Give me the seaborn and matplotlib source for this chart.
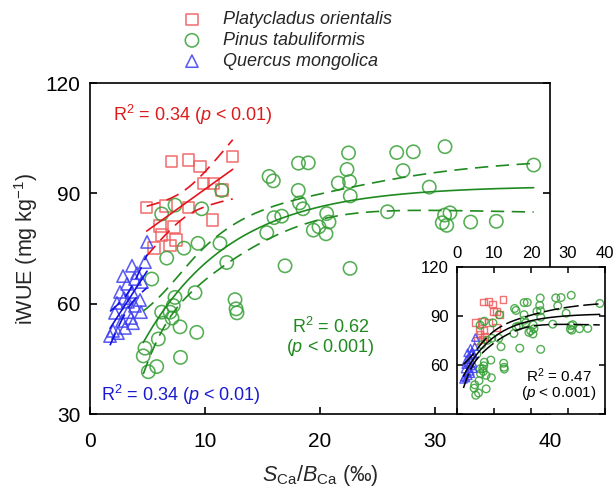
import numpy as np
import pandas as pd
import matplotlib
matplotlib.use("Agg")
import matplotlib.pyplot as plt
import seaborn as sns

# ---------------- data ----------------
species = ["Platycladus orientalis", "Pinus tabuliformis", "Quercus mongolica"]

po_x = [7.10, 8.55, 9.57, 9.85, 10.72, 12.41, 11.48, 4.93, 6.61, 8.55, 10.67,
        6.09, 7.30, 6.23, 7.48, 5.57, 6.96]
po_y = [98.6, 99.1, 97.3, 92.7, 92.7, 100.0, 90.9, 86.2, 86.6, 86.2, 82.8,
        81.1, 80.9, 78.7, 77.3, 75.1, 75.8]

pt_x = [12.61, 12.70, 12.78, 9.39, 8.17, 6.67, 5.37, 7.39, 7.24, 6.23, 6.96,
        7.13, 9.13, 6.37, 7.83, 9.28, 5.94, 4.78, 4.63, 7.87, 5.80, 5.07,
        11.45, 9.71, 7.39, 6.23, 11.30, 11.89, 15.57, 15.94, 18.13, 18.98,
        22.48, 22.35, 21.59, 22.57, 22.63, 18.11, 18.22, 18.52, 20.58, 20.78,
        19.91, 19.42, 20.52, 16.00, 16.67, 15.37, 16.96, 22.61, 25.87, 26.67,
        28.11, 30.87, 27.22, 29.50, 30.63, 31.02, 31.30, 30.83, 33.10, 35.33,
        38.58]
pt_y = [61.1, 58.6, 57.5, 76.4, 75.1, 72.4, 66.7, 61.7, 59.5, 57.7, 57.7,
        56.1, 63.0, 54.7, 53.7, 52.2, 50.4, 47.9, 45.8, 45.4, 42.9, 41.5,
        90.8, 85.8, 86.8, 84.4, 76.4, 71.2, 94.6, 93.4, 98.2, 98.3,
        101.0, 96.5, 92.8, 93.2, 89.3, 90.8, 87.4, 85.8, 84.5, 82.2,
        80.9, 80.0, 79.0, 83.4, 83.8, 79.3, 70.3, 69.6, 85.0, 101.1,
        101.3, 102.7, 96.2, 91.7, 82.0, 81.3, 84.7, 84.1, 82.2, 82.4,
        97.7]

qm_x = [4.96, 4.78, 3.65, 4.09, 2.87, 4.52, 3.22, 3.91, 2.61, 3.65, 2.96,
        2.35, 3.30, 4.35, 3.91, 2.17, 3.30, 4.43, 2.78, 3.74, 2.00, 3.04,
        1.74, 2.43, 3.57]
qm_y = [76.8, 71.3, 70.3, 68.3, 67.5, 65.9, 65.4, 66.7, 63.2, 63.2, 61.5,
        60.2, 60.5, 61.0, 59.4, 57.5, 57.7, 57.7, 55.3, 54.7, 52.6, 53.4,
        51.2, 52.0, 56.1]

x_ticks = [0, 10, 20, 30, 40]
y_ticks = [30, 60, 90, 120]
inset_y_ticks = [60, 90, 120]

# ---------------- style ----------------
sns.set_theme(style="ticks")
plt.rcParams["font.family"] = ["Liberation Sans", "DejaVu Sans"]
plt.rcParams["mathtext.fontset"] = "custom"
plt.rcParams["mathtext.rm"] = "Liberation Sans"
plt.rcParams["mathtext.it"] = "Liberation Sans:italic"
plt.rcParams["mathtext.bf"] = "Liberation Sans:bold"
plt.rcParams["axes.linewidth"] = 1.2

RED_M, RED_L = "#f05a5a", "#e6141e"
GREEN_M, GREEN_L = "#36a036", "#1f8a1f"
BLUE_M, BLUE_L = "#3f3ff2", "#1010e0"

df = pd.concat([
    pd.DataFrame({"x": po_x, "y": po_y, "sp": species[0]}),
    pd.DataFrame({"x": pt_x, "y": pt_y, "sp": species[1]}),
    pd.DataFrame({"x": qm_x, "y": qm_y, "sp": species[2]}),
], ignore_index=True)

style = {
    species[0]: dict(marker="s", mc=RED_M, s=68),
    species[1]: dict(marker="o", mc=GREEN_M, s=92),
    species[2]: dict(marker="^", mc=BLUE_M, s=78),
}


# ---------------- fitting helpers ----------------
def t975(dof):
    z = 1.959964
    g1 = (z**3 + z) / 4
    g2 = (5 * z**5 + 16 * z**3 + 3 * z) / 96
    g3 = (3 * z**7 + 19 * z**5 + 17 * z**3 - 15 * z) / 384
    return z + g1 / dof + g2 / dof**2 + g3 / dof**3


def linfit(x, y, n=100):
    x = np.asarray(x, float); y = np.asarray(y, float)
    b, a = np.polyfit(x, y, 1)
    xs = np.linspace(x.min(), x.max(), n)
    yh = a + b * xs
    res = y - (a + b * x)
    s = np.sqrt((res**2).sum() / (len(x) - 2))
    sxx = ((x - x.mean())**2).sum()
    h = t975(len(x) - 2) * s * np.sqrt(1 / len(x) + (xs - x.mean())**2 / sxx)
    return xs, yh, yh - h, yh + h


def expfit(x, y, n=200):
    # y = a - b * exp(-c x), least squares (grid over c, linear in a, b)
    x = np.asarray(x, float); y = np.asarray(y, float)
    best = None
    for c in np.linspace(0.01, 0.6, 3000):
        A = np.column_stack([np.ones_like(x), -np.exp(-c * x)])
        coef, *_ = np.linalg.lstsq(A, y, rcond=None)
        sse = ((A @ coef - y)**2).sum()
        if best is None or sse < best[0]:
            best = (sse, coef[0], coef[1], c)
    sse, a, b, c = best
    J = np.column_stack([np.ones_like(x), -np.exp(-c * x), b * x * np.exp(-c * x)])
    s2 = sse / (len(x) - 3)
    cov = s2 * np.linalg.inv(J.T @ J)
    xs = np.linspace(x.min(), x.max(), n)
    G = np.column_stack([np.ones_like(xs), -np.exp(-c * xs), b * xs * np.exp(-c * xs)])
    yh = a - b * np.exp(-c * xs)
    h = t975(len(x) - 3) * np.sqrt(np.einsum("ij,jk,ik->i", G, cov, G))
    return xs, yh, yh - h, yh + h


# ---------------- figure ----------------
fig = plt.figure(figsize=(6.16, 4.91), dpi=100)
ax = fig.add_axes([0.1461, 0.1568, 0.7468, 0.6741])

for sp in species:
    d = df[df.sp == sp]
    st = style[sp]
    sns.scatterplot(data=d, x="x", y="y", ax=ax, marker=st["marker"], s=st["s"],
                    facecolors="none", edgecolor=st["mc"], linewidth=1.15,
                    alpha=0.85, label=sp, zorder=2)

fits = [
    (linfit(po_x, po_y), RED_L),
    (expfit(pt_x, pt_y), GREEN_L),
    (linfit(qm_x, qm_y), BLUE_L),
]
for (xs, yh, lo, hi), col in fits:
    ax.plot(xs, yh, color=col, lw=1.2, zorder=3)
    ax.plot(xs, lo, color=col, lw=1.2, dashes=(8, 4.5), zorder=3)
    ax.plot(xs, hi, color=col, lw=1.2, dashes=(8, 4.5), zorder=3)

ax.set_xlim(0, 40)
ax.set_ylim(30, 120)
ax.set_xticks(x_ticks)
ax.set_yticks(y_ticks)
ax.tick_params(direction="in", length=5, width=1.2, labelsize=15, right=True,
               top=False, colors="black")
ax.tick_params(axis="x", pad=13)
ax.tick_params(axis="y", pad=7)
for sp_ in ax.spines.values():
    sp_.set_visible(True)
    sp_.set_color("black")

ax.set_xlabel(r"$S_{\mathrm{Ca}}/B_{\mathrm{Ca}}$ (‰)", fontsize=15.5)
ax.set_ylabel(r"iWUE (mg kg$^{-1}$)", fontsize=15.5)
ax.xaxis.set_label_coords(0.5, -0.148)
ax.yaxis.set_label_coords(-0.109, 0.5)

ax.text(2.0, 111.3, r"R$^2$ = 0.34 ($p$ < 0.01)", color="#dd1a1a", fontsize=13,
        va="center", ha="left")
ax.text(0.96, 35.2, r"R$^2$ = 0.34 ($p$ < 0.01)", color="#1a1ad0", fontsize=13,
        va="center", ha="left")
ax.text(20.9, 53.7, r"R$^2$ = 0.62", color="#1f8a1f", fontsize=13,
        va="center", ha="center")
ax.text(20.9, 48.2, r"($p$ < 0.001)", color="#1f8a1f", fontsize=13,
        va="center", ha="center")

# legend at the top of the figure
handles, labels = ax.get_legend_handles_labels()
if ax.get_legend() is not None:
    ax.get_legend().remove()
fig.legend(handles, labels, loc="upper left", bbox_to_anchor=(0.294, 0.977),
           frameon=False, prop={"style": "italic", "size": 13},
           handlelength=1.2, handletextpad=1.1, labelspacing=0.21,
           borderpad=0, borderaxespad=0)

# ---------------- inset ----------------
ins = fig.add_axes([0.7419, 0.1568, 0.2403, 0.2994])
ins.set_facecolor("white")
inset_sizes = {species[0]: 24, species[1]: 30, species[2]: 28}
for sp in species:
    d = df[df.sp == sp]
    st = style[sp]
    sns.scatterplot(data=d, x="x", y="y", ax=ins, marker=st["marker"],
                    s=inset_sizes[sp], facecolors="none", edgecolor=st["mc"],
                    linewidth=1.0, alpha=0.85, legend=False, zorder=2)

all_x = po_x + pt_x + qm_x
all_y = po_y + pt_y + qm_y
xs, yh, lo, hi = expfit(all_x, all_y)
ins.plot(xs, yh, color="black", lw=1.1, zorder=3)
ins.plot(xs, lo, color="black", lw=1.1, dashes=(10, 3), zorder=3)
ins.plot(xs, hi, color="black", lw=1.1, dashes=(10, 3), zorder=3)

ins.set_xlim(0, 40)
ins.set_ylim(30, 120)
ins.set_xticks(x_ticks)
ins.set_yticks([30] + inset_y_ticks)
ins.set_yticklabels([""] + [str(v) for v in inset_y_ticks])
ins.xaxis.tick_top()
ins.tick_params(direction="in", length=4, width=1.1, labelsize=12,
                top=True, bottom=True, left=True, right=True,
                labeltop=True, labelbottom=False, colors="black")
ins.tick_params(axis="y", pad=6)
ins.tick_params(axis="x", pad=4)
ins.set_xlabel(""); ins.set_ylabel("")
for sp_ in ins.spines.values():
    sp_.set_visible(True)
    sp_.set_color("black")
    sp_.set_linewidth(1.2)

ins.text(27.4, 53.4, r"R$^2$ = 0.47", fontsize=11, ha="center", va="center",
         color="black")
ins.text(27.4, 42.6, r"($p$ < 0.001)", fontsize=11, ha="center", va="center",
         color="black")

fig.savefig("out.png", dpi=100)
